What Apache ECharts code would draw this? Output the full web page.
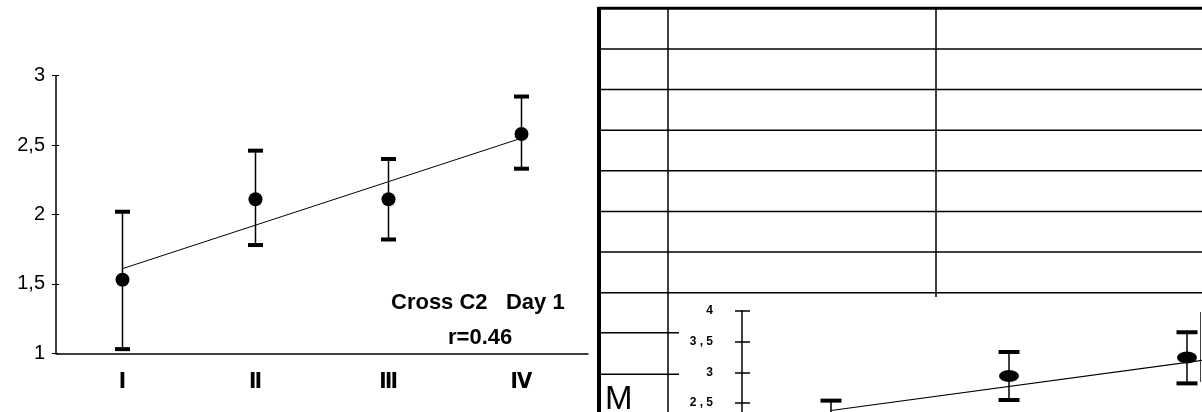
<!DOCTYPE html>
<html>
<head>
<meta charset="utf-8">
<script src="https://cdn.jsdelivr.net/npm/echarts@6/dist/echarts.min.js"></script>
<style>
  html, body { margin: 0; padding: 0; background: #fff; }
  #chart { width: 1202px; height: 412px; }
</style>
</head>
<body>
<div id="chart"></div>
<script>
// left panel: Cross C2, Day 1
const categories = ['Ⅰ', 'Ⅱ', 'Ⅲ', 'Ⅳ']
const day1Means = [1.53, 2.11, 2.11, 2.58]
const day1Low = [1.03, 1.78, 1.82, 2.33]
const day1High = [2.02, 2.46, 2.40, 2.85]
const day1Trend = [1.61, null, null, 2.55] // regression line ends

// inset on the right page (cut off by the scan)
const insetMeans = [2.1, 2.94, 3.24, 3.5]
const insetLow = [1.66, 2.55, 2.82, 3.1]
const insetHigh = [2.54, 3.33, 3.65, 3.9]
const insetTrend = [2.38, null, null, 3.55]

const ink = '#000'

function errorBars(capW, capH) {
  return function(params, api) {
    const i = api.value(0)
    const lo = api.coord([i, api.value(1)])
    const hi = api.coord([i, api.value(2)])
    return {
      type: 'group',
      children: [
        { type: 'line', shape: { x1: lo[0], y1: lo[1], x2: hi[0], y2: hi[1] }, style: { stroke: ink, lineWidth: 1.5 } },
        { type: 'rect', shape: { x: hi[0] - capW / 2, y: hi[1] - capH / 2, width: capW, height: capH }, style: { fill: ink } },
        { type: 'rect', shape: { x: lo[0] - capW / 2, y: lo[1] - capH / 2, width: capW, height: capH }, style: { fill: ink } }
      ]
    }
  }
}

// table lines of the right page
const tableTop = 8.3
const rowH = 40.63
const tableRows = 7
const tableLines = []
for (let r = 0; r <= tableRows; r++) {
  const y = tableTop + r * rowH
  tableLines.push({ type: 'line', shape: { x1: 598, y1: y, x2: 1202, y2: y }, style: { stroke: ink, lineWidth: r === 0 ? 3 : 1.5 } })
}
tableLines.push(
  { type: 'line', shape: { x1: 599, y1: 7, x2: 599, y2: 412 }, style: { stroke: ink, lineWidth: 4 } },
  { type: 'line', shape: { x1: 668, y1: 7, x2: 668, y2: 412 }, style: { stroke: ink, lineWidth: 1.5 } },
  { type: 'line', shape: { x1: 936, y1: 7, x2: 936, y2: 297 }, style: { stroke: ink, lineWidth: 1.5 } },
  { type: 'line', shape: { x1: 598, y1: 332.7, x2: 679, y2: 332.7 }, style: { stroke: ink, lineWidth: 1.5 } },
  { type: 'line', shape: { x1: 598, y1: 374.3, x2: 679, y2: 374.3 }, style: { stroke: ink, lineWidth: 1.5 } },
  { type: 'line', shape: { x1: 1200.5, y1: 312, x2: 1200.5, y2: 382 }, style: { stroke: '#444', lineWidth: 1 } }
)

const chart = echarts.init(document.getElementById('chart'))
chart.setOption({
  backgroundColor: '#fff',
  animation: false,
  textStyle: { fontFamily: 'Liberation Sans, Arial, sans-serif', color: ink },
  grid: [
    { left: 56, top: 75.7, width: 532, height: 277.6, outerBoundsMode: 'none' },
    { left: 742, top: 310.7, width: 712, height: 184.8, outerBoundsMode: 'none' }
  ],
  xAxis: [
    {
      type: 'category', gridIndex: 0, data: categories,
      axisLine: { lineStyle: { color: ink, width: 1.5 } },
      axisTick: { show: false },
      axisLabel: { color: ink, fontSize: 22, fontWeight: 'bold', margin: 18, fontFamily: 'DejaVu Sans Condensed, Liberation Sans Narrow, sans-serif' }
    },
    {
      type: 'category', gridIndex: 1, data: categories,
      axisLine: { lineStyle: { color: ink } },
      axisTick: { show: false },
      axisLabel: { show: false }
    }
  ],
  yAxis: [
    {
      type: 'value', gridIndex: 0, min: 1, max: 3, interval: 0.5,
      axisLine: { show: true, lineStyle: { color: ink, width: 1.5 } },
      axisTick: { show: true, length: 4, lineStyle: { color: ink } },
      splitLine: { show: false },
      axisLabel: { color: ink, fontSize: 20, margin: 11, formatter: v => String(v).replace('.', ',') }
    },
    {
      type: 'value', gridIndex: 0, min: 1, max: 3, interval: 0.5, position: 'left',
      axisLine: { show: false },
      axisTick: { show: true, inside: true, length: 3, lineStyle: { color: ink } },
      splitLine: { show: false },
      axisLabel: { show: false }
    },
    {
      type: 'value', gridIndex: 1, min: 1, max: 4, interval: 0.5,
      axisLine: { show: true, lineStyle: { color: ink, width: 1.5 } },
      axisTick: { show: true, length: 7, lineStyle: { color: ink, width: 1.5 } },
      splitLine: { show: false },
      axisLabel: { color: ink, fontSize: 12, fontWeight: 'bold', margin: 29, formatter: v => String(v).replace('.', ' , ') }
    },
    {
      type: 'value', gridIndex: 1, min: 1, max: 4, interval: 0.5, position: 'left',
      axisLine: { show: false },
      axisTick: { show: true, inside: true, length: 8, lineStyle: { color: ink, width: 1.5 } },
      splitLine: { show: false },
      axisLabel: { show: false }
    }
  ],
  series: [
    {
      type: 'custom', xAxisIndex: 0, yAxisIndex: 0,
      renderItem: errorBars(15, 4),
      data: categories.map((c, i) => [i, day1Low[i], day1High[i]]),
      z: 2
    },
    {
      type: 'line', xAxisIndex: 0, yAxisIndex: 0, data: day1Trend, connectNulls: true,
      symbol: 'none', lineStyle: { color: ink, width: 1 }, z: 3
    },
    {
      type: 'scatter', xAxisIndex: 0, yAxisIndex: 0, data: day1Means,
      symbol: 'circle', symbolSize: 14, itemStyle: { color: ink, opacity: 1 }, z: 4
    },
    {
      type: 'custom', xAxisIndex: 1, yAxisIndex: 2,
      renderItem: errorBars(21, 4),
      data: categories.map((c, i) => [i, insetLow[i], insetHigh[i]]),
      z: 2
    },
    {
      type: 'line', xAxisIndex: 1, yAxisIndex: 2, data: insetTrend, connectNulls: true,
      symbol: 'none', lineStyle: { color: ink, width: 1.2 }, z: 3
    },
    {
      type: 'scatter', xAxisIndex: 1, yAxisIndex: 2, data: insetMeans,
      symbol: 'circle', symbolSize: [20, 12], itemStyle: { color: ink, opacity: 1 }, z: 4
    }
  ],
  graphic: tableLines.concat([
    { type: 'text', left: 391, top: 292, style: { text: 'Cross C2   Day 1', font: 'bold 22px "Liberation Sans", Arial, sans-serif', fill: ink } },
    { type: 'text', left: 448, top: 327, style: { text: 'r=0.46', font: 'bold 22px "Liberation Sans", Arial, sans-serif', fill: ink } },
    { type: 'text', left: 605, top: 383, style: { text: 'M', font: '33px "Liberation Sans", Arial, sans-serif', fill: ink } }
  ])
})
</script>
</body>
</html>
